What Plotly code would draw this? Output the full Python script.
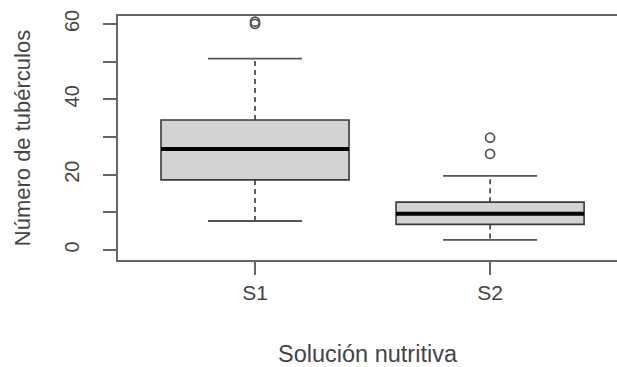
import plotly.graph_objects as go

categories = ["S1", "S2"]
positions = [1, 2]
q1 = [18.6, 6.8]
median = [26.8, 9.6]
q3 = [34.5, 12.7]
lower_whisker = [7.7, 2.7]
upper_whisker = [50.8, 19.7]
outliers = [[60.0, 60.6], [25.5, 29.8]]
y_ticks = [0, 10, 20, 30, 40, 50, 60]
y_ticklabels = ["0", "", "20", "", "40", "", "60"]

box_w = 0.8
cap_w = 0.4
line_col = "#3a3a3a"
axis_col = "#666666"
text_col = "#444444"
font_family = "Liberation Sans, Arial, sans-serif"

fig = go.Figure()
for i, cat in enumerate(categories):
    x0 = positions[i]
    fig.add_trace(go.Box(
        x=[x0], q1=[q1[i]], median=[median[i]], q3=[q3[i]],
        lowerfence=[q1[i]], upperfence=[q3[i]],
        width=box_w, whiskerwidth=0, fillcolor="#D3D3D3",
        line=dict(color=line_col, width=1.6), boxpoints=False,
        hoverinfo="skip", showlegend=False,
    ))
    fig.add_trace(go.Scatter(
        x=[x0, x0, None, x0, x0],
        y=[q3[i], upper_whisker[i], None, q1[i], lower_whisker[i]],
        mode="lines", line=dict(color=line_col, width=1.6, dash="5px,4px"),
        showlegend=False, hoverinfo="skip",
    ))
    fig.add_trace(go.Scatter(
        x=[x0 - cap_w / 2, x0 + cap_w / 2, None, x0 - cap_w / 2, x0 + cap_w / 2],
        y=[upper_whisker[i], upper_whisker[i], None, lower_whisker[i], lower_whisker[i]],
        mode="lines", line=dict(color="#555555", width=1.8),
        showlegend=False, hoverinfo="skip",
    ))
    fig.add_trace(go.Scatter(
        x=[x0 - box_w / 2, x0 + box_w / 2], y=[median[i], median[i]],
        mode="lines", line=dict(color="#000000", width=4),
        showlegend=False, hoverinfo="skip",
    ))
    fig.add_trace(go.Scatter(
        x=[x0] * len(outliers[i]), y=outliers[i], mode="markers",
        marker=dict(symbol="circle-open", size=9, color="#555555", line=dict(width=1.8)),
        showlegend=False, hoverinfo="skip",
    ))

fig.update_layout(
    width=617, height=367,
    margin=dict(l=118, r=0, t=16, b=107, autoexpand=False),
    paper_bgcolor="white", plot_bgcolor="white",
    font=dict(family=font_family, color=text_col, size=20),
    xaxis=dict(
        range=[0.417, 2.540], tickmode="array", tickvals=positions, ticktext=categories,
        showline=True, linecolor=axis_col, linewidth=2, mirror=True,
        ticks="outside", ticklen=13, tickwidth=2, tickcolor=axis_col,
        showgrid=False, zeroline=False, tickfont=dict(size=21), automargin=False,
        title=dict(text="Solución nutritiva", font=dict(size=23.5), standoff=46),
    ),
    yaxis=dict(
        range=[-2.65, 62.1], tickmode="array", tickvals=y_ticks, ticktext=y_ticklabels,
        showline=True, linecolor=axis_col, linewidth=2,
        ticks="outside", ticklen=13, tickwidth=2, tickcolor=axis_col,
        showgrid=False, zeroline=False, tickangle=-90, tickfont=dict(size=20),
        ticklabelstandoff=16, automargin=False,
        title=dict(text="Número de tubérculos", font=dict(size=22), standoff=24),
    ),
)

fig.write_html(
    "out.html",
    config={"displayModeBar": False},
    post_script="document.body.style.margin='0';document.body.style.overflow='hidden';",
)
